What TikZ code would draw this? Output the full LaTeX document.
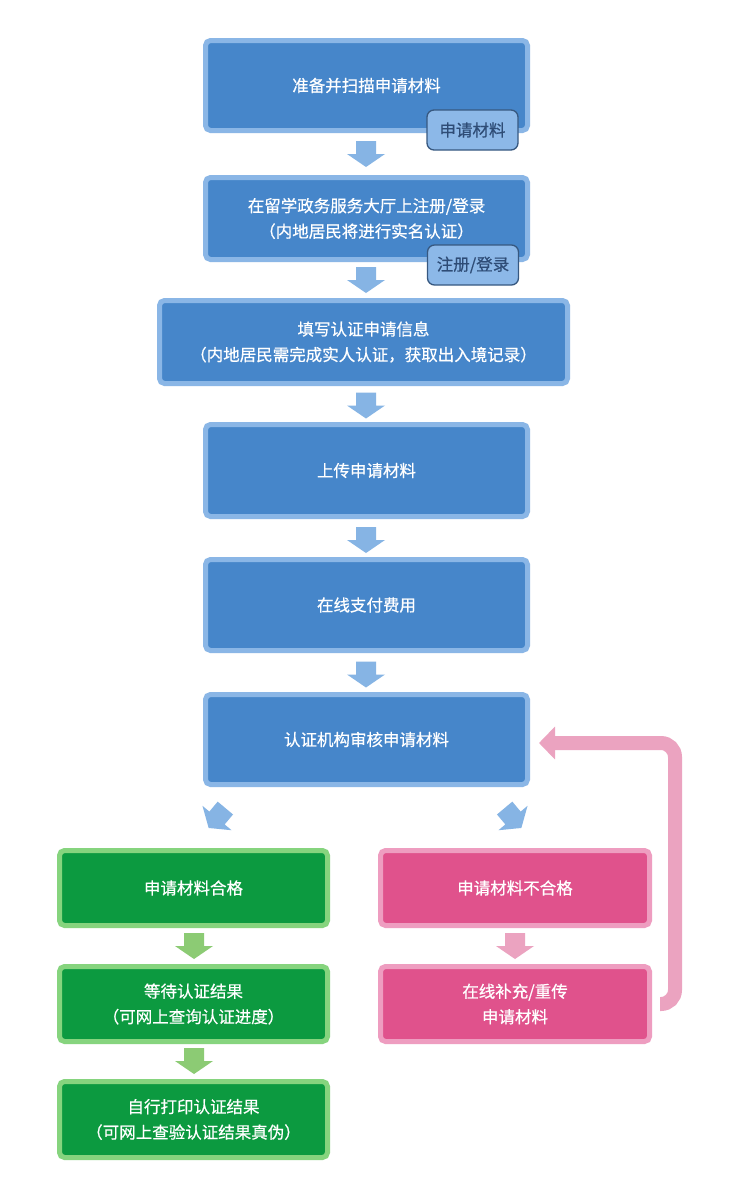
\documentclass[tikz,border=0pt]{standalone}
\usepackage{fontspec}
\newfontfamily\cjk[FakeBold=0.6]{Noto Sans CJK SC}
\usetikzlibrary{arrows.meta}
\definecolor{bfill}{RGB}{70,134,202}
\definecolor{bline}{RGB}{138,182,230}
\definecolor{badgefill}{RGB}{140,184,232}
\definecolor{badgeline}{RGB}{55,88,128}
\definecolor{badgetext}{RGB}{46,76,118}
\definecolor{barrow}{RGB}{134,180,228}
\definecolor{gfill}{RGB}{12,154,64}
\definecolor{gline}{RGB}{134,212,126}
\definecolor{garrow}{RGB}{140,203,116}
\definecolor{pfill}{RGB}{224,82,140}
\definecolor{pline}{RGB}{238,157,192}
\definecolor{parrow}{RGB}{235,163,192}
\tikzset{
  box/.style={rounded corners=5pt, line width=5pt, align=center, text=white,
    font=\cjk\fontsize{16.5}{25.5}\selectfont, inner sep=0pt},
  bluebox/.style={box, fill=bfill, draw=bline},
  greenbox/.style={box, fill=gfill, draw=gline, minimum width=268pt, minimum height=75pt},
  pinkbox/.style={box, fill=pfill, draw=pline, minimum width=269pt, minimum height=75pt},
  badge/.style={rounded corners=7pt, line width=1.3pt, fill=badgefill, draw=badgeline,
    text=badgetext, font=\cjk\fontsize{16.5}{20}\selectfont, inner sep=0pt,
    minimum width=91pt, minimum height=40pt},
  pics/downarrow/.style={code={
    \fill[#1] (-10pt,13pt) -- (10pt,13pt) -- (10pt,0pt) -- (19pt,0pt) -- (0pt,-13pt)
      -- (-19pt,0pt) -- (-10pt,0pt) -- cycle;}},
}
\begin{document}
\begin{tikzpicture}[x=1pt,y=-1pt]
\useasboundingbox (0,0) rectangle (753,1186);
\fill[white] (0,0) rectangle (753,1186);

\node[bluebox, minimum width=322pt, minimum height=90pt] (b1) at (366.5,85.5) {准备并扫描申请材料};
\node[badge] (t1) at (472.5,130) {申请材料};
\node[bluebox, minimum width=322pt, minimum height=82pt] (b2) at (366.5,218.5) {在留学政务服务大厅上注册/登录\\（内地居民将进行实名认证）};
\node[badge] (t2) at (473,265) {注册/登录};
\node[bluebox, minimum width=408pt, minimum height=83pt] (b3) at (363.5,342) {填写认证申请信息\\（内地居民需完成实人认证，获取出入境记录）};
\node[bluebox, minimum width=322pt, minimum height=92pt] (b4) at (366.5,470.5) {上传申请材料};
\node[bluebox, minimum width=322pt, minimum height=91pt] (b5) at (366.5,605) {在线支付费用};
\node[bluebox, minimum width=322pt, minimum height=90pt] (b6) at (366.5,739.5) {认证机构审核申请材料};

\node[greenbox] (g1) at (193.5,888) {申请材料合格};
\node[greenbox] (g2) at (193.5,1004) {等待认证结果\\（可网上查询认证进度）};
\node[greenbox, minimum height=76pt] (g3) at (193.5,1119.5) {自行打印认证结果\\（可网上查验认证结果真伪）};

\node[pinkbox] (p1) at (515,888) {申请材料不合格};
\node[pinkbox] (p2) at (515,1004) {在线补充/重传\\申请材料};

% block arrows
\pic at (366,154) {downarrow=barrow};
\pic at (366,280) {downarrow=barrow};
\pic at (366,405.5) {downarrow=barrow};
\pic at (366,540) {downarrow=barrow};
\pic at (366,674.5) {downarrow=barrow};
\pic[rotate=-40] at (217,818) {downarrow=barrow};
\pic[rotate=40] at (513,818) {downarrow=barrow};
\pic at (194,946) {downarrow=garrow};
\pic at (194,1061) {downarrow=garrow};
\pic at (515,946) {downarrow=parrow};

% loop back
\coordinate (ls) at ([xshift=8pt]p2.east);
\coordinate (le) at ([xshift=9pt,yshift=-3.5pt]b6.east);
\draw[parrow, line width=14pt, rounded corners=14pt,
  -{Triangle[length=16pt,width=32pt]}]
  (ls) -- (675,1004) -- (675,743) -- (le);
\end{tikzpicture}
\end{document}
